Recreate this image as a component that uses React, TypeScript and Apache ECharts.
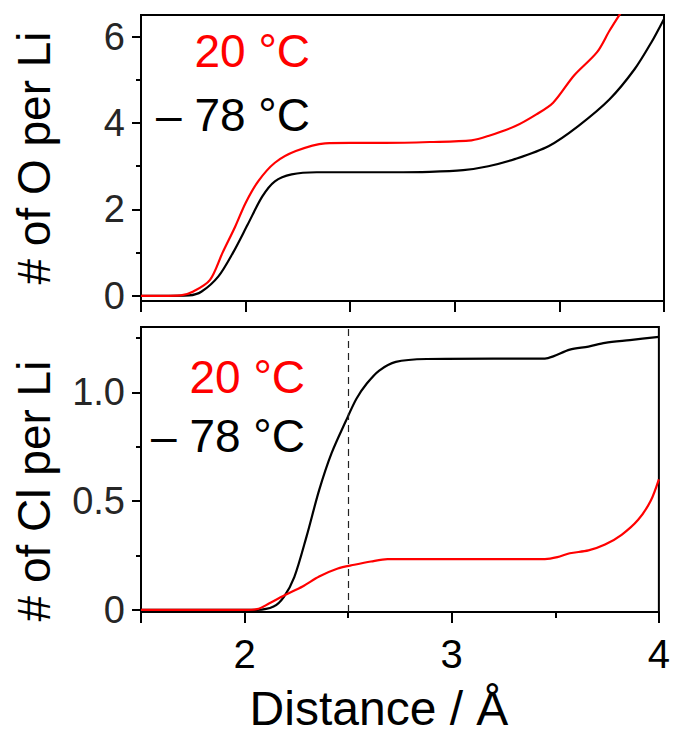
import React, { useEffect, useRef } from "react";
import * as echarts from "echarts";

const FONT = '"Liberation Sans", Arial, Helvetica, sans-serif';

// Top panel: # of O per Li
const oWarmX = [1.5, 1.6, 1.69, 1.75, 1.83, 1.89, 1.95, 2.0, 2.06, 2.14, 2.24, 2.38, 2.5, 2.67, 2.88, 3.08, 3.16, 3.29, 3.39, 3.47, 3.57, 3.68, 3.74, 3.8];
const oWarmY = [0, 0, 0.01, 0.1, 0.37, 1.0, 1.6, 2.15, 2.65, 3.08, 3.35, 3.53, 3.54, 3.54, 3.56, 3.6, 3.7, 3.93, 4.2, 4.47, 5.1, 5.64, 6.14, 6.6];
const oColdX = [1.5, 1.6, 1.73, 1.79, 1.87, 1.94, 2.01, 2.08, 2.14, 2.22, 2.34, 2.5, 2.7, 2.88, 3.04, 3.16, 3.29, 3.45, 3.59, 3.74, 3.86, 3.94, 4.0];
const oColdY = [0, 0, 0.01, 0.1, 0.45, 1.0, 1.65, 2.3, 2.65, 2.81, 2.86, 2.86, 2.86, 2.87, 2.91, 3.0, 3.17, 3.47, 3.93, 4.55, 5.25, 5.87, 6.41];

// Bottom panel: # of Cl per Li
const clColdX = [1.5, 2.0, 2.06, 2.14, 2.19, 2.24, 2.3, 2.36, 2.42, 2.49, 2.54, 2.59, 2.65, 2.73, 2.88, 3.2, 3.45, 3.49, 3.57, 3.66, 3.74, 3.86, 4.0];
const clColdY = [0, 0, 0, 0.015, 0.06, 0.15, 0.34, 0.55, 0.72, 0.87, 0.97, 1.04, 1.1, 1.14, 1.153, 1.155, 1.155, 1.165, 1.196, 1.21, 1.227, 1.24, 1.255];
const clWarmX = [1.5, 2.0, 2.06, 2.12, 2.2, 2.28, 2.36, 2.45, 2.53, 2.61, 2.69, 2.88, 3.2, 3.45, 3.51, 3.57, 3.66, 3.74, 3.82, 3.9, 3.96, 4.0];
const clWarmY = [0, 0, 0.003, 0.03, 0.07, 0.107, 0.153, 0.19, 0.207, 0.222, 0.233, 0.233, 0.233, 0.233, 0.242, 0.26, 0.273, 0.3, 0.345, 0.414, 0.5, 0.6];

const cutoffDistance = 2.5;

const xRange = [1.5, 4];
const oRange = [-0.12, 6.5];
const clRange = [-0.01, 1.3];

const topXTicks = [1.5, 2, 2.5, 3, 3.5, 4];
const bottomXMajorTicks = [1.5, 2, 3, 4];
const bottomXMinorTicks = [2.5, 3.5];
const xLabelValues = [2, 3, 4];
const oMajorTicks = [0, 2, 4, 6];
const oMinorTicks = [1, 3, 5];
const clMajorTicks = [0, 0.5, 1];
const clMinorTicks = [0.25, 0.75, 1.25];

const warmLabel = "20 °C";
const coldLabel = "– 78 °C";
const oTitle = "# of O per Li";
const clTitle = "# of Cl per Li";
const xTitle = "Distance / Å";

const RED = "#ff0000";
const BLACK = "#000000";

function pairs(xs: number[], ys: number[]) {
  return xs.map((x, i) => [x, ys[i]]);
}

function tickAxis(grid: number, ticks: number[], len: number, showLine: boolean) {
  return {
    gridIndex: grid,
    type: "value",
    axisLine: { show: showLine, onZero: false, lineStyle: { color: BLACK, width: 2 } },
    axisTick: { show: true, customValues: ticks, length: len, lineStyle: { color: BLACK, width: 2 } },
    splitLine: { show: false },
  };
}

export default function App() {
  const ref = useRef<HTMLDivElement>(null);

  useEffect(() => {
    if (!ref.current) return;
    const chart = echarts.init(ref.current, undefined, { renderer: "svg" });

    const lineSeries = (xi: number, yi: number, data: number[][], color: string, extra: any = {}) => ({
      type: "line",
      xAxisIndex: xi,
      yAxisIndex: yi,
      data,
      showSymbol: false,
      symbol: "none",
      smooth: 0.3,
      clip: true,
      lineStyle: { color, width: 2.2 },
      itemStyle: { color },
      ...extra,
    });

    const legendText = (text: string, x: number, y: number, color: string) => ({
      type: "text",
      x,
      y,
      style: { text, fill: color, fontSize: 46, fontFamily: FONT, align: "right", verticalAlign: "middle" },
    });

    chart.setOption({
      animation: false,
      backgroundColor: "#ffffff",
      grid: [
        { left: 141, top: 15, width: 523, height: 286, show: true, borderColor: BLACK, borderWidth: 2, backgroundColor: "transparent" },
        { left: 141, top: 327, width: 523, height: 285, show: true, borderColor: BLACK, borderWidth: 2, backgroundColor: "transparent" },
      ],
      xAxis: [
        { ...tickAxis(0, topXTicks, 11, true), position: "bottom", min: xRange[0], max: xRange[1], axisLabel: { show: false } },
        {
          ...tickAxis(1, bottomXMajorTicks, 11, true),
          position: "bottom",
          min: xRange[0],
          max: xRange[1],
          axisLabel: { show: true, customValues: xLabelValues, fontSize: 40, fontFamily: FONT, color: BLACK, margin: 22 },
        },
        { ...tickAxis(1, bottomXMinorTicks, 6, false), position: "bottom", min: xRange[0], max: xRange[1], axisLabel: { show: false } },
      ],
      yAxis: [
        {
          ...tickAxis(0, oMajorTicks, 9, true),
          position: "left",
          min: oRange[0],
          max: oRange[1],
          axisLabel: { show: true, customValues: oMajorTicks, fontSize: 38, fontFamily: FONT, color: "#262626", margin: 16 },
        },
        { ...tickAxis(0, oMinorTicks, 5, false), position: "left", min: oRange[0], max: oRange[1], axisLabel: { show: false } },
        {
          ...tickAxis(1, clMajorTicks, 9, true),
          position: "left",
          min: clRange[0],
          max: clRange[1],
          axisLabel: {
            show: true,
            customValues: clMajorTicks,
            fontSize: 38,
            fontFamily: FONT,
            color: "#262626",
            margin: 16,
            formatter: (v: number) => (v === 0 ? "0" : v.toFixed(1)),
          },
        },
        { ...tickAxis(1, clMinorTicks, 5, false), position: "left", min: clRange[0], max: clRange[1], axisLabel: { show: false } },
      ],
      series: [
        lineSeries(0, 0, pairs(oColdX, oColdY), BLACK),
        lineSeries(0, 0, pairs(oWarmX, oWarmY), RED),
        lineSeries(1, 2, pairs(clColdX, clColdY), BLACK, {
          markLine: {
            silent: true,
            symbol: "none",
            label: { show: false },
            lineStyle: { type: [7, 5], color: "#222222", width: 1.2 },
            data: [{ xAxis: cutoffDistance }],
          },
        }),
        lineSeries(1, 2, pairs(clWarmX, clWarmY), RED),
      ],
      graphic: [
        legendText(warmLabel, 310, 51, RED),
        legendText(coldLabel, 310, 115, BLACK),
        legendText(warmLabel, 305, 377, RED),
        legendText(coldLabel, 305, 436, BLACK),
        {
          type: "text",
          x: 34,
          y: 158,
          rotation: Math.PI / 2,
          style: { text: oTitle, fill: BLACK, fontSize: 46, fontFamily: FONT, align: "center", verticalAlign: "middle" },
        },
        {
          type: "text",
          x: 34,
          y: 491,
          rotation: Math.PI / 2,
          style: { text: clTitle, fill: BLACK, fontSize: 46, fontFamily: FONT, align: "center", verticalAlign: "middle" },
        },
        {
          type: "text",
          x: 379,
          y: 708,
          style: { text: xTitle, fill: BLACK, fontSize: 48, fontFamily: FONT, align: "center", verticalAlign: "middle" },
        },
      ],
    });

    return () => chart.dispose();
  }, []);

  return (
    <div
      ref={ref}
      style={{ position: "fixed", left: 0, top: 0, width: 673, height: 736, background: "#ffffff" }}
    />
  );
}
